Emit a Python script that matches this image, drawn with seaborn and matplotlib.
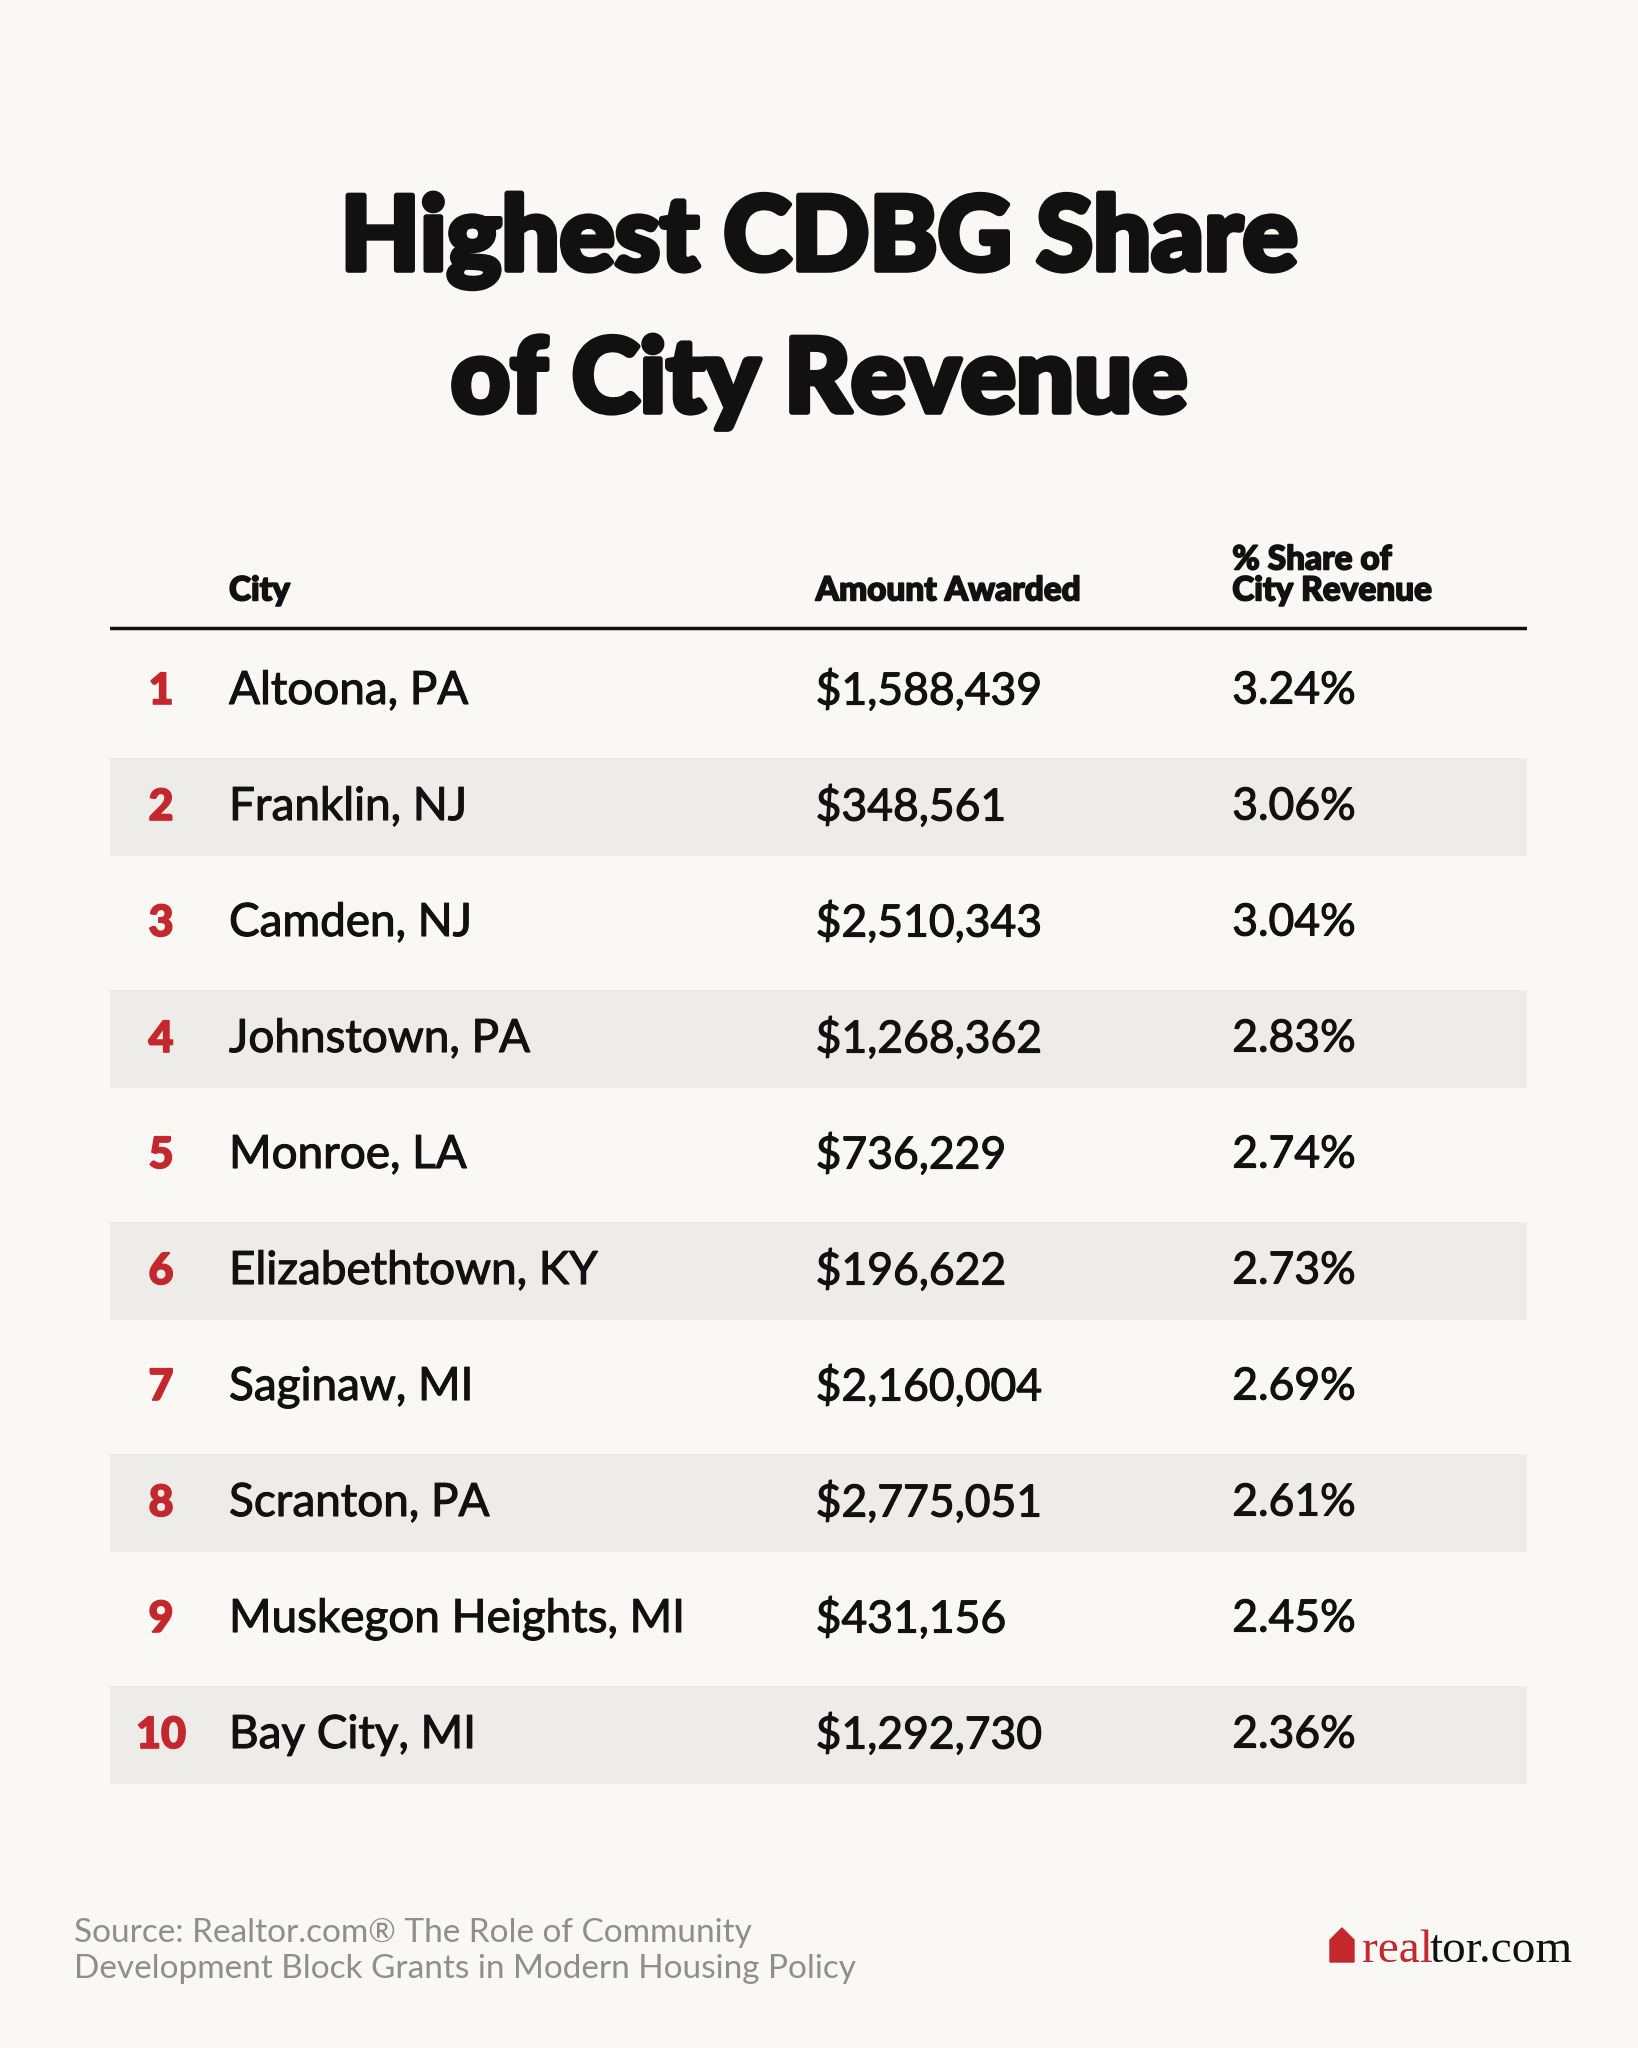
import matplotlib
matplotlib.use('Agg')
import matplotlib.pyplot as plt
import matplotlib.patheffects as pe
import seaborn as sns
import pandas as pd

# data
ranks = [1, 2, 3, 4, 5, 6, 7, 8, 9, 10]
cities = ['Altoona, PA', 'Franklin, NJ', 'Camden, NJ', 'Johnstown, PA', 'Monroe, LA',
          'Elizabethtown, KY', 'Saginaw, MI', 'Scranton, PA', 'Muskegon Heights, MI', 'Bay City, MI']
amounts = [1588439, 348561, 2510343, 1268362, 736229, 196622, 2160004, 2775051, 431156, 1292730]
shares = [3.24, 3.06, 3.04, 2.83, 2.74, 2.73, 2.69, 2.61, 2.45, 2.36]
headers = ['City', 'Amount Awarded', '% Share of\nCity Revenue']

title_lines = ['Highest CDBG Share', 'of City Revenue']
source = 'Source: Realtor.com\u00ae The Role of Community\nDevelopment Block Grants in Modern Housing Policy'

df = pd.DataFrame({'rank': ranks, 'city': cities, 'amount': amounts, 'share': shares})

BG = '#F9F8F4'
SHADE = '#EDECE8'
RED = '#C4282D'
INK = '#111111'

sns.set_theme(style='white')
plt.rcParams['font.family'] = ['Lato', 'DejaVu Sans']

W, H = 1638, 2048
fig = plt.figure(figsize=(W / 100, H / 100), dpi=100, facecolor=BG)

# title, two lines with heavy stroke to mimic the black weight
heavy = [pe.withStroke(linewidth=4, foreground=INK)]
for line, base in zip(title_lines, [270, 412]):
    t = fig.text(0.5, 1 - base / H, line, ha='center', va='baseline', fontsize=74, fontweight='black',
                 color=INK, path_effects=heavy)

# table body axes: one row per rank
left, right, top, bottom = 110, 1527, 633, 1793
ax = fig.add_axes([left / W, 1 - bottom / H, (right - left) / W, (bottom - top) / H])
ax.set_facecolor(BG)
ax.set_xlim(0, 1)
ax.set_ylim(10.5, 0.5)
ax.axis('off')

col_rank, col_city, col_amt, col_share = 0.036, 0.084, 0.498, 0.792
body = [pe.withStroke(linewidth=0.8, foreground=INK)]

for _, r in df.iterrows():
    y = r['rank']
    if y % 2 == 0:
        ax.axhspan(y - 0.42, y + 0.42, color=SHADE, lw=0, zorder=0)
    ax.text(col_rank, y, str(y), ha='center', va='center', fontsize=31, fontweight='black', color=RED,
            path_effects=[pe.withStroke(linewidth=1.2, foreground=RED)])
    ax.text(col_city, y, r['city'], ha='left', va='center', fontsize=33, color=INK, path_effects=body)
    ax.text(col_amt, y, f"${r['amount']:,}", ha='left', va='center', fontsize=32, color=INK,
            path_effects=body)
    ax.text(col_share, y, f"{r['share']:.2f}%", ha='left', va='center', fontsize=32, color=INK,
            path_effects=body)

# header row
hax = fig.add_axes([left / W, 1 - 633 / H, (right - left) / W, 120 / H])
hax.set_xlim(0, 1)
hax.set_ylim(0, 1)
hax.axis('off')
hax.axhline(0.04, color=INK, lw=2.5)
for x, h in zip([col_city, col_amt, col_share], headers):
    hax.text(x, 0.23, h, ha='left', va='bottom', fontsize=24, fontweight='black', color=INK,
             linespacing=1.08, path_effects=[pe.withStroke(linewidth=1.2, foreground=INK)])

# source note
fig.text(74 / W, 1 - 1951 / H, source, ha='left', va='center', fontsize=24,
         color='#8E8E8E', linespacing=1.25)

# logo
lx, ly = 1362, 1962
fig.text(lx / W, 1 - ly / H, 'real', ha='left', va='baseline', fontsize=34,
         family='Liberation Serif', color=RED)
fig.text((lx + 68) / W, 1 - ly / H, 'tor.com', ha='left', va='baseline', fontsize=34,
         family='Liberation Serif', color=INK)
house = plt.Polygon([[(lx - 32) / W, 1 - ly / H], [(lx - 32) / W, 1 - (ly - 22) / H],
                     [(lx - 20) / W, 1 - (ly - 34) / H], [(lx - 8) / W, 1 - (ly - 22) / H],
                     [(lx - 8) / W, 1 - ly / H]], closed=True, color=RED,
                    transform=fig.transFigure)
fig.patches.append(house)

fig.savefig('out.png', dpi=100, facecolor=BG)
